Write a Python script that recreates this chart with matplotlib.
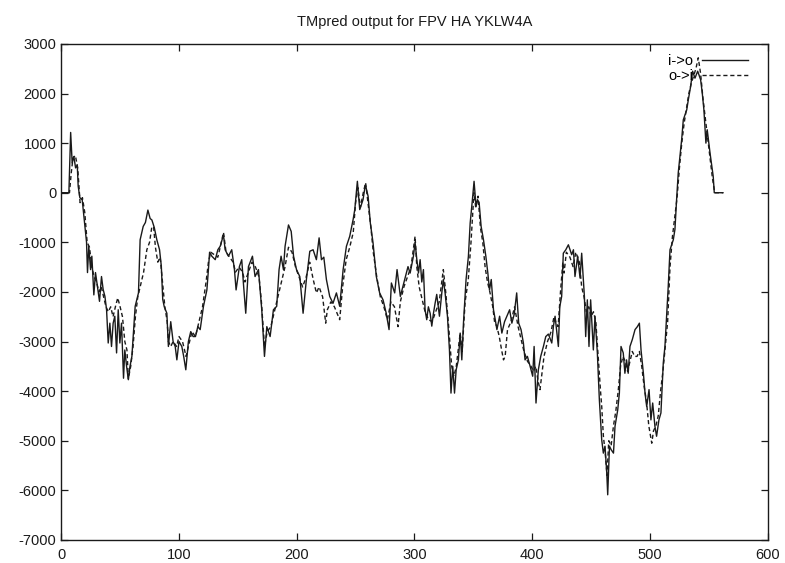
import matplotlib
matplotlib.use("Agg")
import matplotlib.pyplot as plt
from matplotlib import rcParams

rcParams["font.family"] = ["Liberation Sans", "DejaVu Sans"]
rcParams["axes.unicode_minus"] = False

# i->o (solid)
io_x = [0, 6.5, 8, 9.3, 10.7, 12.2, 13.6, 14.4, 15.8, 17.8, 19.5, 21.5, 22.3, 23.4, 24.9, 26, 27.7, 29.1,
        30.7, 32.5, 34.2, 35.6, 37.1, 38.5, 39.9, 41.3, 42.7, 44.1, 45.5, 47, 48.4, 49.8, 51.2, 52.9, 54,
        55.5, 57, 58.4, 60, 62.8, 65.6, 67, 69.6, 71.5, 73.6, 75.5, 77, 79, 81.2, 83.5, 85, 86.2, 87.5,
        89.7, 91, 93, 95, 96.8, 98.2, 100, 102.4, 104, 105.8, 108, 110, 112, 114, 116, 118, 120.8, 123.7,
        125, 126, 127.9, 130.8, 133, 135, 137.8, 139.2, 142, 144.8, 147.1, 148.5, 151.3, 153.3, 154.7,
        156.7, 159, 162.4, 164.6, 167.5, 170.3, 172.6, 174.6, 177.4, 180.2, 183, 185, 186.7, 188.7, 190.1,
        193, 195.3, 197.3, 199.8, 202.6, 205.4, 208.2, 211.1, 213.9, 216.7, 219, 221, 223, 225.2, 228,
        230.8, 233.7, 236.5, 239.4, 242.2, 245, 247.9, 249.3, 251.5, 253.5, 256.3, 258.3, 260.6, 262.5,
        264.8, 267.6, 270.4, 273.3, 276, 278.4, 280.4, 283.2, 285.2, 288, 291.7, 294.5, 296.3, 299.1,
        300.5, 302, 303.4, 304.8, 306.2, 307.6, 309, 310.4, 311.8, 313.3, 314.7, 316, 317.5, 318.9, 321.2,
        323.2, 324.5, 326, 328, 329.7, 331, 332.5, 334, 335.4, 337.3, 338.8, 340.2, 341.6, 343.8, 345.8,
        347.3, 349.2, 350.6, 352.3, 353.5, 354.9, 356.6, 358.6, 360.6, 362.3, 363.7, 365.2, 367.1, 368.6,
        370, 372.3, 374.2, 376.5, 378.5, 380.8, 382.7, 384.7, 386.8, 388.5, 390.5, 392.5, 393.9, 395.9,
        398.2, 400.4, 401.6, 403.2, 405.2, 407.2, 409.5, 411.5, 413.7, 416.6, 418, 419.4, 422.2, 423.4,
        425, 426.4, 428.5, 430.7, 433.5, 435, 436.3, 438.6, 440.6, 442, 444.3, 445.4, 446.8, 448.2, 449.6,
        451.9, 453.3, 455.3, 457, 459, 460.4, 461.8, 463.3, 464.1, 465.6, 467, 469, 470.3, 472.6, 474,
        475.4, 477.3, 478.7, 480.1, 481.5, 483, 485, 487.3, 489.3, 491, 492.4, 494.4, 495.8, 497.2, 499.2,
        500.8, 502.3, 504.2, 505.6, 507.6, 509.3, 511.3, 512.7, 515.5, 517, 519.8, 521.2, 522.6, 524,
        526.9, 528.3, 531.2, 532.6, 534.5, 536.2, 538.2, 540.5, 543, 544.4, 545.8, 547.5, 548.6, 551,
        553.7, 554.6, 562]
io_y = [0, 0, 1215, 600, 730, 500, 560, 130, -100, -140, -540, -1000, -1610, -1080, -1550, -1280, -2060, -1610,
        -1890, -2190, -1690, -1950, -2090, -2360, -3030, -2630, -3100, -2630, -2490, -3230, -2360, -3030, -2630, -3740, -3170,
        -3500, -3770, -3500, -3300, -2290, -2020, -950, -680, -600, -350, -520, -550, -700, -950, -1150, -1480, -2150, -2300,
        -2430, -3100, -2600, -3000, -3100, -3370, -3000, -3100, -3300, -3570, -3000, -2800, -2900, -2900, -2700, -2760, -2290, -1960,
        -1550, -1200, -1280, -1350, -1150, -1080, -850, -1150, -1280, -1150, -1550, -1960, -1490, -1350, -1820,
        -2430, -1490, -1280, -1690, -1550, -2360, -3300, -2700, -2900, -2360, -2290, -1550, -1280, -1550, -1080,
        -650, -780, -1280, -1550, -1690, -2430, -1750, -1180, -1150, -1350, -910, -1350, -1300, -1750, -2090,
        -2230, -2020, -2290, -1550, -1080, -880, -540, -340, 230, -340, -140, 160, -70, -610,
        -1010, -1690, -2020, -2160, -2430, -2760, -1820, -2020, -1550, -2090, -1750, -1490, -1620, -1280,
        -1000, -1350, -1620, -1350, -1800, -1550, -2360, -2560, -2300, -2430, -2690, -2450, -2230, -2050, -2490,
        -2020, -1750, -2020, -2490, -3170, -4040, -3500, -4040, -3570, -3370, -2830, -3370, -2630, -1750, -1280,
        -610, -140, 230, -280, -140, -200, -680, -950, -1280, -1620, -1960, -1750, -2360, -2560,
        -2760, -2490, -2830, -2600, -2490, -2360, -2630, -2450, -2020, -2630, -2760, -3030, -3370, -3300,
        -3500, -3700, -3100, -4240, -3570, -3300, -3100, -2900, -2850, -3030, -2690, -2490, -3100, -2300,
        -2090, -1220, -1150, -1050, -1250, -1150, -1690, -1280, -1720, -1220, -2090, -2900, -2160, -3100, -2160,
        -3170, -2490, -3230, -4170, -4980, -5250, -5110, -5650, -6090, -5110, -5180, -5250, -4710, -4380, -4040,
        -3100, -3230, -3640, -3370, -3640, -3100, -2960, -2760, -2700, -2630, -3170, -3640, -4040, -4310, -3970,
        -4580, -4240, -4710, -4910, -4580, -4440, -3430, -3100, -1890, -1150, -950, -740, -140, 400,
        1070, 1470, 1670, 1880, 2140, 2450, 2310, 2450, 2280, 2010, 1670, 1000, 1270, 800,
        330, 0, 0]

# o->i (dashed)
oi_x = [0, 7, 8.5, 10, 12, 14, 16, 18, 20, 22, 24, 26, 28, 30, 32, 34, 36, 38, 40, 42, 44, 46, 48, 50, 52, 54,
        55.8, 57, 59, 61, 63, 65, 67, 69.9, 72.7, 75, 77, 78.5, 80, 82, 84, 86, 88, 90, 91, 93, 95, 98, 100,
        103, 106, 108, 111, 114, 117, 120, 123, 125, 127, 130, 133, 135, 137.8, 140, 143, 146, 148, 151, 154,
        156, 159, 162, 165, 168, 170, 172.6, 175, 178, 181, 184, 187, 190, 193, 196, 199, 202, 205, 208, 211,
        214, 216.7, 219, 222, 224.6, 226, 229, 232, 236.5, 239, 242, 245, 248, 250, 252, 254, 256.5, 258.5,
        260.5, 263, 265, 268, 271, 274, 277, 280, 283, 286, 288, 291, 294, 297, 300.5, 302, 304, 306, 309,
        312, 315, 318, 321, 324.5, 326.5, 328.8, 331.6, 333.5, 335.5, 338.8, 340.5, 343, 345.7, 348, 350.5,
        352, 354, 356, 358, 360, 362, 364, 366.5, 368, 370, 372, 374, 375.6, 377, 379, 382, 385, 388, 390,
        393, 396, 399, 401, 403, 405, 406.6, 408, 410, 413, 416, 418.5, 420, 422, 424, 426, 427, 429, 432,
        434.7, 437, 440, 442, 444, 446, 448, 450, 452, 454, 456, 458, 459, 460.4, 462, 463.5, 465, 467, 469,
        471, 473, 475, 477, 479, 481, 483, 485, 487, 489, 491, 493, 495, 497, 499, 501.5, 503, 505, 507, 509,
        511, 513, 515, 517, 519, 521, 523, 525, 527, 529, 531, 533, 535, 537, 539, 541, 543, 545, 547, 549,
        551, 553, 555, 562]
oi_y = [0, 0, 400, 700, 750, 500, -200, -100, -400, -1000, -1100, -1500, -1700, -1800, -2000, -1900, -2100, -2300, -2400, -2300, -2500, -2300, -2120, -2300, -2500, -3000,
        -3170, -3750, -3500, -3100, -2500, -2100, -1900, -1610, -1150, -1000, -680, -700, -1100, -1400, -1300, -1800, -2300, -2600, -3000, -3100, -3000, -3100, -2900,
        -3000, -3300, -3100, -2800, -2900, -2600, -2300, -1800, -1400, -1200, -1250, -1300, -1100, -800, -1200, -1300, -1400, -1600, -1500, -1600,
        -1800, -1600, -1400, -1500, -1700, -2200, -3100, -2800, -2700, -2400, -2100, -1800, -1500, -1100, -1200, -1500, -1700, -1900, -1700, -1400,
        -1750, -2020, -1900, -2100, -2630, -2360, -2200, -2300, -2560, -1890, -1350, -1100, -800, -200, 100, -300, 0, 200,
        -200, -700, -1200, -1700, -2100, -2300, -2560, -2200, -2300, -2700, -2200, -1900, -1700, -1500, -880, -1500, -1900, -2100, -2400,
        -2560, -2600, -2400, -2200, -1550, -2000, -2630, -3500, -3700, -3500, -2830, -3200, -2200, -1750, -1000, 0,
        -300, -70, -700, -1000, -1500, -1800, -2000, -2300, -2600, -2700, -2900, -3170, -3370, -3300, -2760, -2600, -2300, -2700, -2900,
        -3200, -3400, -3500, -3600, -3500, -3800, -3970, -3700, -3300, -3000, -2800, -2500, -2600, -2700, -2000, -1400, -1620, -1200, -1300,
        -1490, -1200, -1400, -1900, -2100, -2400, -2300, -2500, -2400, -2600, -3300, -4000, -4300, -4900, -5250, -5700, -5000, -5100, -4700,
        -4400, -4000, -3500, -3300, -3400, -3600, -3400, -3200, -3300, -3300, -3200, -3500, -3900, -4200, -4700, -5050, -4800, -4700, -4500, -4000,
        -3600, -3100, -2600, -1500, -900, -500, -100, 500, 1000, 1400, 1700, 2000, 2200, 2350, 2500, 2720, 2400, 1900, 1500, 1100,
        700, 300, 0, 0]

x_ticks = [0, 100, 200, 300, 400, 500, 600]
y_ticks = [-7000, -6000, -5000, -4000, -3000, -2000, -1000, 0, 1000, 2000, 3000]

fig = plt.figure(figsize=(7.85, 5.63), dpi=100)
ax = fig.add_axes([0.078, 0.041, 0.900, 0.881])

ax.plot(io_x, io_y, color="#1a1a1a", linewidth=1.0, label="i->o")
ax.plot(oi_x, oi_y, color="#1a1a1a", linewidth=1.0, linestyle=(0, (3, 2)), label="o->i")

ax.set_xlim(0, 600)
ax.set_ylim(-7000, 3000)
ax.set_xticks(x_ticks)
ax.set_yticks(y_ticks)
ax.tick_params(direction="in", length=5, width=0.9, top=True, right=True, labelsize=10.5, colors="#1a1a1a")
ax.tick_params(axis="x", pad=6)
for s in ax.spines.values():
    s.set_linewidth(1.0)
    s.set_color("#1a1a1a")

ax.set_title("TMpred output for FPV HA YKLW4A", fontsize=10.5, pad=13, color="#1a1a1a")
# legend sits a bit in from the right edge, text before the line sample (gnuplot style)
ax.legend(loc="upper right", bbox_to_anchor=(0.987, 1.0), frameon=False, markerfirst=False, fontsize=10.5,
          handlelength=3.2, handletextpad=0.6, labelspacing=0.05, borderaxespad=0.3)

fig.savefig("out.png", dpi=100)
